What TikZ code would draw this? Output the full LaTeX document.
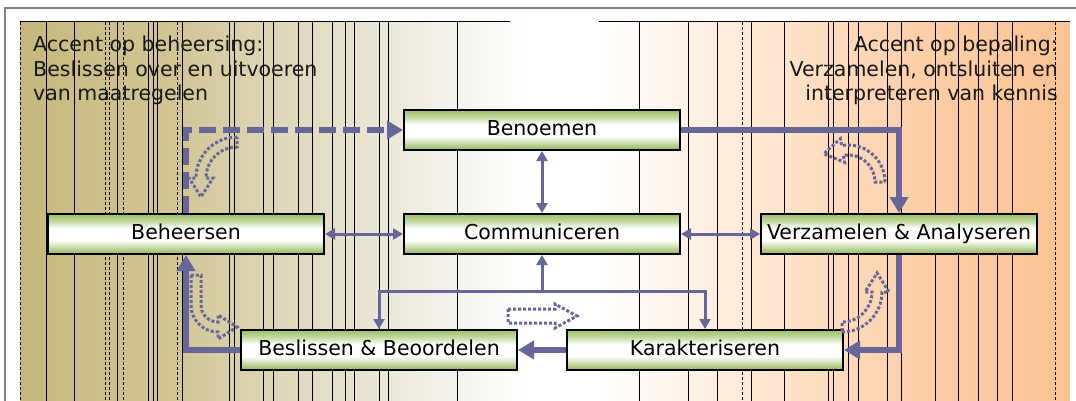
\documentclass[tikz,border=0pt]{standalone}
\usepackage{fontspec}
\setmainfont{DejaVu Sans}
\usepackage{tikz}
\usetikzlibrary{calc,arrows.meta}
\definecolor{flowBlue}{RGB}{102,102,153}
\definecolor{stageDark}{RGB}{146,178,92}
\definecolor{stageMid}{RGB}{190,212,152}
\definecolor{stageLight}{RGB}{156,190,102}
\definecolor{stagePale}{RGB}{196,218,162}
\definecolor{tanA}{RGB}{198,184,124}
\definecolor{tanB}{RGB}{210,198,150}
\definecolor{tanC}{RGB}{226,219,192}
\definecolor{tanD}{RGB}{242,240,232}
\definecolor{peachA}{RGB}{254,240,228}
\definecolor{peachB}{RGB}{253,224,196}
\definecolor{peachC}{RGB}{252,208,170}
\definecolor{peachD}{RGB}{250,195,146}

\pgfdeclarehorizontalshading{accentBand}{100bp}{color(0bp)=(tanA); color(25bp)=(tanA);
  color(32.5bp)=(tanB); color(38.5bp)=(tanC); color(45bp)=(tanD); color(49bp)=(white);
  color(52.5bp)=(white); color(57.5bp)=(peachA); color(62.5bp)=(peachB);
  color(67.5bp)=(peachC); color(75bp)=(peachD); color(100bp)=(peachD)}
\pgfdeclareverticalshading{stageBand}{100bp}{color(0bp)=(stageDark); color(25bp)=(stageDark);
  color(32bp)=(stageMid); color(42bp)=(white); color(57bp)=(white);
  color(66bp)=(stagePale); color(75bp)=(stageLight); color(100bp)=(stageLight)}

\begin{document}
\begin{tikzpicture}[x=1pt,y=-1pt,
    stage/.style={draw=black, line width=2pt, shade, shading=stageBand,
      minimum width=276pt, minimum height=40pt, inner sep=0pt,
      text height=15pt, text depth=4pt, font=\fontsize{20.5}{24.5}\selectfont},
    heavy/.style={flowBlue, line width=5.5pt, >={Triangle[length=16pt,width=18pt]}},
    light/.style={flowBlue, line width=3pt, >={Triangle[length=10pt,width=11pt]}},
    hint/.style={flowBlue, line width=3pt, dash pattern=on 3pt off 2pt},
    note/.style={inner sep=0pt, text=black!90, font=\fontsize{20.5}{24.5}\selectfont}]

  \useasboundingbox (0,0) rectangle (1076,401);

  % draw the accent band
  \shade[shading=accentBand] (20,22) rectangle (1070,401);
  \foreach \x in {46,74,117,148,153,157,182,229,234,263,273,298,312,332,345,354,379,388,457,
                  639,688,717,751,784,828,833,848,858,887,901,935,958,978,997,1012}
    \draw[line width=1pt] (\x,22) -- (\x,401);
  \foreach \x in {20,105,109,123,177,742,1055}
    \draw[line width=1pt, densely dashed] (\x,22) -- (\x,401);
  \draw[line width=1pt] (20,22) -- (510,22) (599,22) -- (1070,22);
  \draw[gray, line width=1.5pt] (5,401) -- (5,8) -- (1076,8);

  % the two accents
  \node[note, anchor=north west, align=left] (leftNote) at (33,36)
    {Accent op beheersing:\\Beslissen over en uitvoeren\\van maatregelen};
  \node[note, anchor=north east, align=right] (rightNote) at (1058,36)
    {Accent op bepaling:\\Verzamelen, ontsluiten en\\interpreteren van kennis};

  % the stages
  \node[stage] (ben)  at (542,130) {Benoemen};
  \node[stage] (comm) at (542,234) {Communiceren};
  \node[stage] (beh)  at (186,234) {Beheersen};
  \node[stage] (verz) at (899,234) {Verzamelen \& Analyseren};
  \node[stage] (besl) at (379,350) {Beslissen \& Beoordelen};
  \node[stage] (kar)  at (705,350) {Karakteriseren};
  \coordinate (hub) at ($(comm.south)+(0,36)$);

  % the main cycle
  \draw[heavy, ->, dash pattern=on 17pt off 7pt] (beh.north) |- (ben.west);
  \draw[heavy, ->] (ben.east) -| (verz.north);
  \draw[heavy, ->] (verz.south) |- (kar.east);
  \draw[heavy, ->] (kar.west) -- (besl.east);
  \draw[heavy, ->] (besl.west) -| (beh.south);

  % communication links
  \draw[light, <->] (ben.south) -- (comm.north);
  \draw[light, <->] (beh.east) -- (comm.west);
  \draw[light, <->] (comm.east) -- (verz.west);
  \draw[light, ->] (hub) -- (comm.south);
  \draw[light, <->] (besl.north) |- (hub) -| (kar.north);

  % dotted hints of the turning direction
  \def\shaftW{5}
  \def\headW{12}
  \def\headL{19}
  \foreach \cx/\cy/\rad/\startA/\endA/\tailL in {237/178/36/-90/-180/0,
      218/305/22/180/90/30, 842/292/35/90/0/0, 848/182/32/0/-100/0}
  {
    \pgfmathsetmacro\turn{sign(\endA-\startA)}
    \pgfmathsetmacro\rOut{\rad+\shaftW}
    \pgfmathsetmacro\rIn{\rad-\shaftW}
    \pgfmathsetmacro\wOut{\rad+\headW}
    \pgfmathsetmacro\wIn{\rad-\headW}
    \pgfmathsetmacro\backA{\startA-(\turn)*90}
    \pgfmathsetmacro\aheadA{\endA+(\turn)*90}
    \draw[hint] ($(\cx,\cy)+(\startA:\rOut)+(\backA:\tailL)$) -- ($(\cx,\cy)+(\startA:\rOut)$)
      arc[start angle=\startA, end angle=\endA, radius=\rOut]
      -- ($(\cx,\cy)+(\endA:\wOut)$) -- ($(\cx,\cy)+(\endA:\rad)+(\aheadA:\headL)$)
      -- ($(\cx,\cy)+(\endA:\wIn)$) -- ($(\cx,\cy)+(\endA:\rIn)$)
      arc[start angle=\endA, end angle=\startA, radius=\rIn]
      -- ($(\cx,\cy)+(\startA:\rIn)+(\backA:\tailL)$) -- cycle;
  }
  \draw[hint] (508,309) -- (555,309) -- (555,304) -- (577,316) -- (555,328)
    -- (555,323) -- (508,323) -- cycle;

\end{tikzpicture}
\end{document}
